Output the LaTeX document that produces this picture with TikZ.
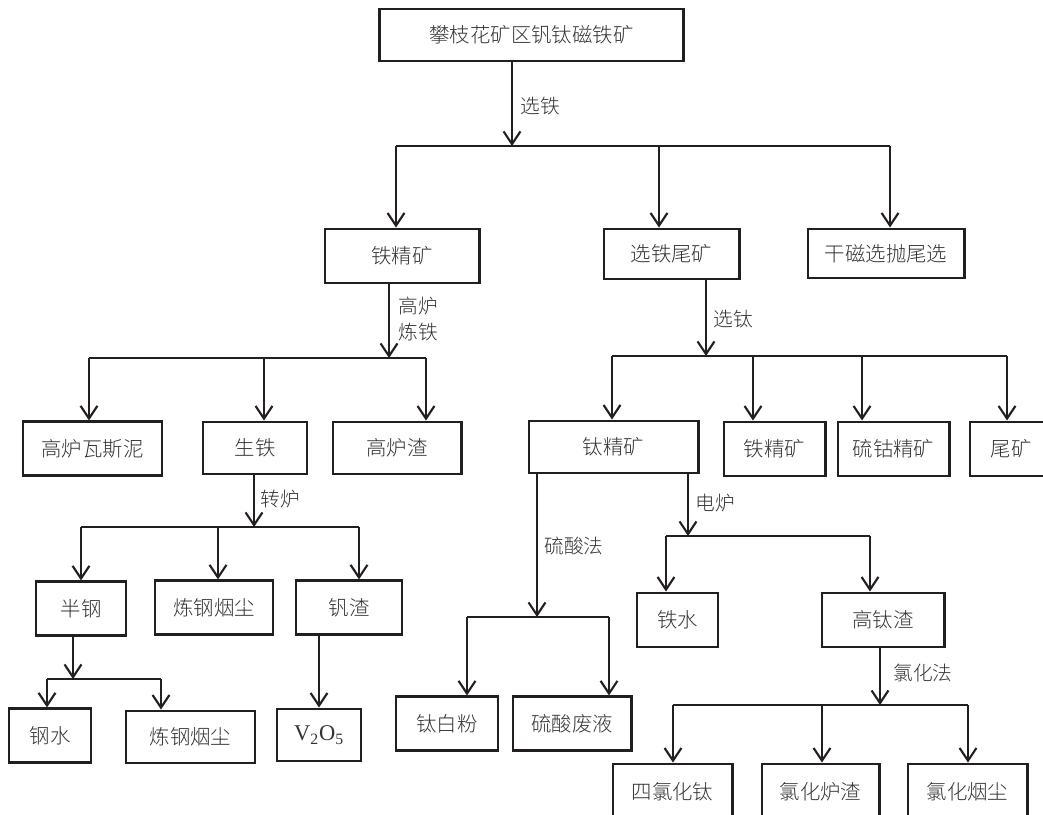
\documentclass[tikz,border=0pt]{standalone}
\usepackage{fontspec}
\setmainfont{Noto Sans CJK SC}[UprightFont=* Light]
\newfontfamily\latinserif{Liberation Serif}
\usetikzlibrary{arrows.meta}
\definecolor{ink}{HTML}{231F20}
\definecolor{txt}{HTML}{333333}
\tikzset{
  box/.style={draw=ink, line width=2.1pt, minimum height=1.33cm, inner sep=0pt, text=txt, font=\fontsize{14.5}{17}\selectfont},
  lbl/.style={text=txt, inner sep=0pt, align=left, font=\fontsize{14}{19}\selectfont},
  flow/.style={draw=ink, line width=1.5pt},
  arr/.style={flow, -{Straight Barb[length=9pt, width=12pt]}},
}
\begin{document}
\begin{tikzpicture}[x=0.025cm, y=-0.025cm]
  \useasboundingbox (0,0) rectangle (1043,814);
  \clip (0,0) rectangle (1043,814);
  % boxes
  \node[box, minimum width=7.575cm, minimum height=1.3cm] (ore) at (531.5,35) {攀枝花矿区钒钛磁铁矿};
  \node[box, minimum width=3.85cm, minimum height=1.35cm] (feconc) at (402,256) {铁精矿};
  \node[box, minimum width=3.375cm, minimum height=1.25cm] (tail) at (671.5,254) {选铁尾矿};
  \node[box, minimum width=3.9cm, minimum height=1.225cm] (dry) at (886,253.5) {干磁选抛尾选};
  \node[box, minimum width=3.475cm] (gas) at (92.5,448.5) {高炉瓦斯泥};
  \node[box, minimum width=2.6cm, minimum height=1.3cm] (pig) at (255,448) {生铁};
  \node[box, minimum width=3.2cm, minimum height=1.3cm] (bfslag) at (397,448) {高炉渣};
  \node[box, minimum width=4.225cm, minimum height=1.3cm] (ticonc) at (613.5,447) {钛精矿};
  \node[box, minimum width=2.525cm, minimum height=1.35cm] (feconcb) at (774.5,449) {铁精矿};
  \node[box, minimum width=2.775cm, minimum height=1.35cm] (coconc) at (893.5,449) {硫钴精矿};
  \node[box, minimum width=2.05cm, minimum height=1.35cm] (tailb) at (1011,449) {尾矿};
  \node[box, minimum width=2.25cm] (semi) at (81,608.5) {半钢};
  \node[box, minimum width=2.95cm] (dusta) at (214,607.5) {炼钢烟尘};
  \node[box, minimum width=2.65cm] (vslag) at (349,607.5) {钒渣};
  \node[box, minimum width=2.05cm] (steel) at (50,735.5) {钢水};
  \node[box, minimum width=3.225cm, minimum height=1.3cm] (dustb) at (190.5,737) {炼钢烟尘};
  \node[box, minimum width=2.1cm, minimum height=1.3cm] (vox) at (319,735) {\latinserif\fontsize{16}{17}\selectfont V\textsubscript{2}O\textsubscript{5}};
  \node[box, minimum width=2.55cm] (tiwhite) at (447,723.5) {钛白粉};
  \node[box, minimum width=2.95cm] (waste) at (572,723.5) {硫酸废液};
  \node[box, minimum width=2.025cm, minimum height=1.35cm] (hotfe) at (677.5,620) {铁水};
  \node[box, minimum width=3.05cm, minimum height=1.35cm] (tislag) at (883,620) {高钛渣};
  \node[box, minimum width=2.975cm, minimum height=1.4cm] (ticl) at (672.5,792) {四氯化钛};
  \node[box, minimum width=2.925cm, minimum height=1.4cm] (clslag) at (820.5,792) {氯化炉渣};
  \node[box, minimum width=2.975cm, minimum height=1.4cm] (cldust) at (967.5,792) {氯化烟尘};

  % ore -> first split
  \coordinate (s1) at (512,146);
  \draw[arr] (ore.south -| s1) -- (s1);
  \node[lbl] (l1) at (540,106) {选铁};
  \coordinate (s1a) at (396,146);
  \coordinate (s1b) at (659,146);
  \coordinate (s1c) at (890,146);
  \draw[flow] (s1a) -- (s1c);
  \draw[arr] (s1a) -- (s1a |- feconc.north);
  \draw[arr] (s1b) -- (s1b |- tail.north);
  \draw[arr] (s1c) -- (s1c |- dry.north);

  % blast furnace
  \coordinate (s2) at (389,358);
  \draw[arr] (feconc.south -| s2) -- (s2);
  \node[lbl] (l2) at (418,319) {高炉\\炼铁};
  \coordinate (s2a) at (89,358);
  \coordinate (s2b) at (264,358);
  \coordinate (s2c) at (426,358);
  \draw[flow] (s2a) -- (s2c);
  \draw[arr] (s2a) -- (s2a |- gas.north);
  \draw[arr] (s2b) -- (s2b |- pig.north);
  \draw[arr] (s2c) -- (s2c |- bfslag.north);

  % converter
  \coordinate (s3) at (254,527);
  \draw[arr] (pig.south -| s3) -- (s3);
  \node[lbl] (l3) at (280,499) {转炉};
  \coordinate (s3a) at (81,527);
  \coordinate (s3b) at (218,527);
  \coordinate (s3c) at (359,527);
  \draw[flow] (s3a) -- (s3c);
  \draw[arr] (s3a) -- (s3a |- semi.north);
  \draw[arr] (s3b) -- (s3b |- dusta.north);
  \draw[arr] (s3c) -- (s3c |- vslag.north);

  % semi steel
  \coordinate (s4) at (73,679);
  \draw[arr] (semi.south -| s4) -- (s4);
  \coordinate (s4a) at (47,679);
  \coordinate (s4b) at (161,679);
  \draw[flow] (s4a) -- (s4b);
  \draw[arr] (s4a) -- (s4a |- steel.north);
  \draw[arr] (s4b) -- (s4b |- dustb.north);
  \draw[arr] (vslag.south -| vox) -- (vox);

  % titanium separation
  \coordinate (s5) at (706,356);
  \draw[arr] (tail.south -| s5) -- (s5);
  \node[lbl] (l5) at (733,319) {选钛};
  \coordinate (s5a) at (612,356);
  \coordinate (s5b) at (753,356);
  \coordinate (s5c) at (862,356);
  \coordinate (s5d) at (1007,356);
  \draw[flow] (s5a) -- (s5d);
  \draw[arr] (s5a) -- (s5a |- ticonc.north);
  \draw[arr] (s5b) -- (s5b |- feconcb.north);
  \draw[arr] (s5c) -- (s5c |- coconc.north);
  \draw[arr] (s5d) -- (s5d |- tailb.north);

  % sulfate route
  \coordinate (s6) at (537,617);
  \draw[arr] (ticonc.south -| s6) -- (s6);
  \node[lbl] (l6) at (574,546) {硫酸法};
  \coordinate (s6a) at (467,617);
  \coordinate (s6b) at (609,617);
  \draw[flow] (s6a) -- (s6b);
  \draw[arr] (s6a) -- (s6a |- tiwhite.north);
  \draw[arr] (s6b) -- (s6b |- waste.north);

  % electric furnace
  \coordinate (s7) at (688,536);
  \draw[arr] (ticonc.south -| s7) -- (s7);
  \node[lbl] (l7) at (715,503) {电炉};
  \coordinate (s7a) at (666,536);
  \coordinate (s7b) at (870,536);
  \draw[flow] (s7a) -- (s7b);
  \draw[arr] (s7a) -- (s7a |- hotfe.north);
  \draw[arr] (s7b) -- (s7b |- tislag.north);

  % chlorination
  \coordinate (s8) at (880,705);
  \draw[arr] (tislag.south -| s8) -- (s8);
  \node[lbl] (l8) at (923,673) {氯化法};
  \coordinate (s8a) at (673,705);
  \coordinate (s8b) at (822,705);
  \coordinate (s8c) at (968,705);
  \draw[flow] (s8a) -- (s8c);
  \draw[arr] (s8a) -- (s8a |- ticl.north);
  \draw[arr] (s8b) -- (s8b |- clslag.north);
  \draw[arr] (s8c) -- (s8c |- cldust.north);
\end{tikzpicture}
\end{document}
